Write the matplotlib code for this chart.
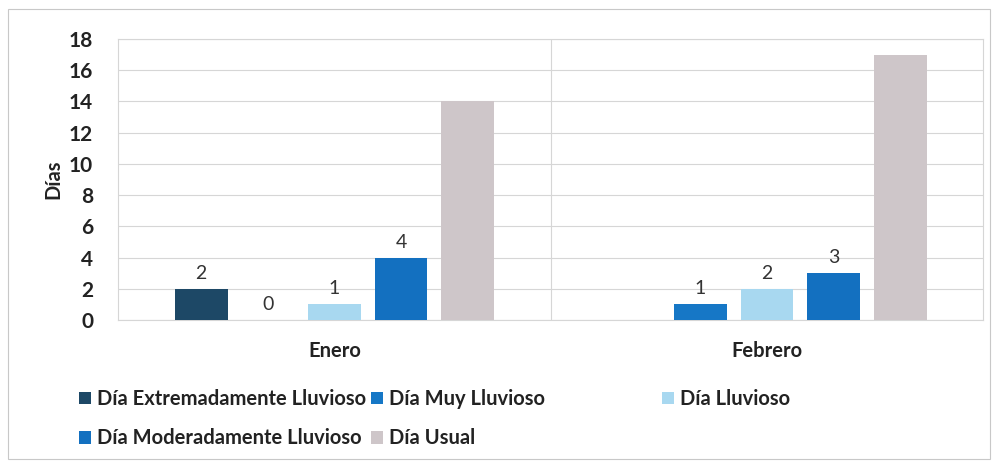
import numpy as np
import matplotlib.pyplot as plt
from matplotlib.patches import Patch, Rectangle

plt.rcParams['font.family'] = ['Lato', 'DejaVu Sans']

months = ["Enero", "Febrero"]
series = ["Día Extremadamente Lluvioso", "Día Muy Lluvioso", "Día Lluvioso",
          "Día Moderadamente Lluvioso", "Día Usual"]
values = {
    "Día Extremadamente Lluvioso": [2, np.nan],
    "Día Muy Lluvioso": [0, 1],
    "Día Lluvioso": [1, 2],
    "Día Moderadamente Lluvioso": [4, 3],
    "Día Usual": [14, 17],
}
show_label = ["Día Extremadamente Lluvioso", "Día Muy Lluvioso", "Día Lluvioso",
              "Día Moderadamente Lluvioso"]
colors = ["#1D4866", "#1677C6", "#A8D8F0", "#1370C0", "#CEC6C9"]

fig = plt.figure(figsize=(9.97, 4.66), dpi=100)
ax = fig.add_axes([0.1184, 0.3133, 0.868, 0.6030])

x = np.arange(len(months))
w = 0.122
step = 0.154
for i, (name, c) in enumerate(zip(series, colors)):
    vals = np.array(values[name], dtype=float)
    pos = x + (i - 2) * step
    ax.bar(pos, vals, width=w, color=c, zorder=3)
    if name in show_label:
        for p, v in zip(pos, vals):
            if not np.isnan(v):
                ax.annotate(f"{int(v)}", (p, v), xytext=(0, 5), textcoords="offset points",
                            ha="center", va="bottom", fontsize=14, color="#333333")

ax.set_xlim(-0.5, 1.5)
ax.set_ylim(0, 18)
ax.set_yticks(range(0, 19, 2))
ax.yaxis.grid(True, color="#D6D6D6", lw=0.8, zorder=0)
ax.axvline(0.5, color="#D6D6D6", lw=0.8, zorder=0)
for s in ax.spines.values():
    s.set_color("#D6D6D6")
    s.set_linewidth(0.8)
ax.tick_params(length=0)
ax.tick_params(axis="y", pad=18, labelsize=15)
ax.tick_params(axis="x", pad=15, labelsize=14.5)
ax.set_xticks(x)
ax.set_xticklabels(months, fontweight="bold", color="#222222")
for t in ax.get_yticklabels():
    t.set_fontweight("bold")
    t.set_color("#222222")
ax.set_ylabel("Días", fontsize=14.5, fontweight="bold", color="#222222", labelpad=4)

handles = {n: Patch(facecolor=c) for n, c in zip(series, colors)}
cols = [(["Día Extremadamente Lluvioso", "Día Moderadamente Lluvioso"], 0.079),
        (["Día Muy Lluvioso", "Día Usual"], 0.372),
        (["Día Lluvioso"], 0.664)]
for names, xpos in cols:
    leg = fig.legend([handles[n] for n in names], names, loc="upper left",
                     bbox_to_anchor=(xpos, 0.165), frameon=False, ncol=1,
                     prop={"weight": "bold", "size": 14.5}, handlelength=0.6,
                     handleheight=0.6, handletextpad=0.3, labelspacing=0.95,
                     borderaxespad=0, borderpad=0)
    for t in leg.get_texts():
        t.set_color("#222222")

fig.patches.append(Rectangle((0.008, 0.015), 0.985, 0.965, transform=fig.transFigure,
                             fill=False, edgecolor="#C8C8C8", lw=0.8))

fig.savefig("out.png", dpi=100)
